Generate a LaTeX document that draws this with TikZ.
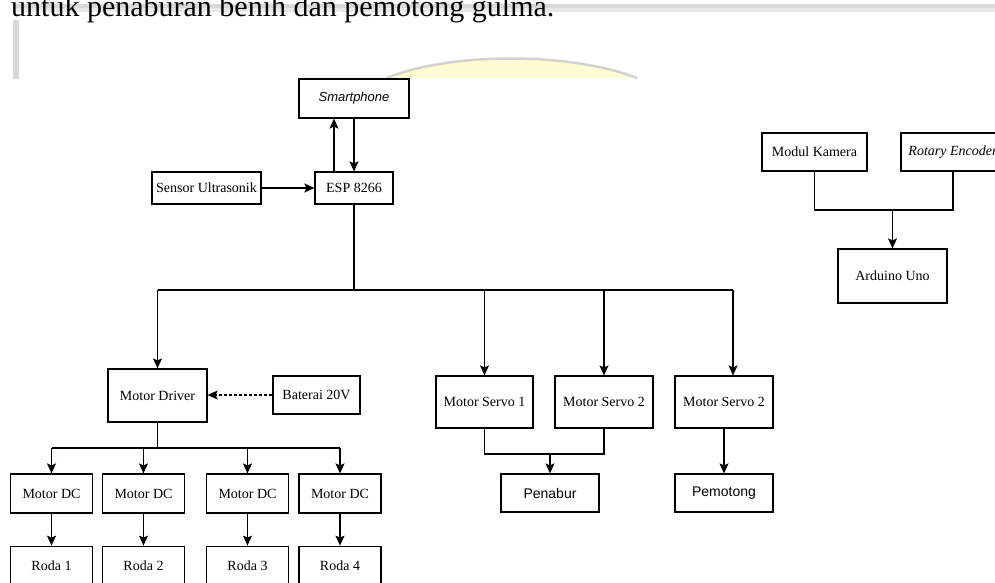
\documentclass[tikz,border=0pt]{standalone}
\usepackage{fontspec}
\setmainfont{Liberation Serif}
\setsansfont{Liberation Sans}
\usetikzlibrary{arrows.meta,positioning}
\definecolor{pgrey}{HTML}{D9D9D9}
\definecolor{plight}{HTML}{E9E9E9}
\definecolor{wyellow}{HTML}{FFFBD2}
\definecolor{warc}{HTML}{D2D2D2}

\begin{document}
\begin{tikzpicture}[x=1pt,y=-1pt,every node/.style={font=\fontsize{14}{16}\selectfont,align=center},box/.style={draw,line width=1.2pt,inner sep=0pt},dcbox/.style={box,minimum width=82pt,minimum height=39pt},svbox/.style={box,minimum width=98pt,minimum height=52pt},arr/.style={-{Stealth[length=10pt,width=9pt,inset=2pt]},line width=1.2pt},ln/.style={line width=1.2pt}]
\useasboundingbox (0,0) rectangle (995,583);
\clip (0,0) rectangle (995,583);
\fill[white] (0,0) rectangle (995,583);
% page around the figure
\fill[pgrey] (13,4) rectangle (995,8);
\fill[plight] (13,8) rectangle (995,12);
\fill[pgrey] (13,20) rectangle (19,79);
\fill[wyellow] (387,78) .. controls (450,52) and (570,52) .. (637,78) -- cycle;
\draw[warc,line width=2.5pt] (387,78) .. controls (450,52) and (570,52) .. (637,78);
\node[anchor=base west,inner sep=0pt,font=\fontsize{30}{32}\selectfont] (cap) at (11,17) {untuk penaburan benih dan pemotong gulma.};
% ESP side
\node[box,minimum width=110pt,minimum height=39pt,font=\sffamily\itshape\fontsize{13}{15}\selectfont] (phone) at (354,98.5) {Smartphone};
\node[box,minimum width=78pt,minimum height=32pt] (esp) at (354,188) {ESP 8266};
\node[box,minimum width=109pt,minimum height=32pt] (sensor) at (206.5,188) {Sensor Ultrasonik};
\node[box,minimum width=99pt,minimum height=53pt] (drv) at (157.5,395.5) {Motor Driver};
\node[box,minimum width=87pt,minimum height=38pt] (bat) at (316.5,395) {Baterai 20V};
\foreach \i/\x in {1/51.5,2/143.5,3/247.5,4/340}{
  \node[dcbox] (dc\i) at (\x,493.5) {Motor DC};
  \node[dcbox,below=32pt of dc\i] (roda\i) {Roda \i};
}
\node[svbox,minimum width=97pt] (sv1) at (484.5,402) {Motor Servo 1};
\node[svbox] (sv2) at (604,402) {Motor Servo 2};
\node[svbox] (sv3) at (724,402) {Motor Servo 2};
\node[box,minimum width=98pt,minimum height=38pt,font=\sffamily\fontsize{14}{16}\selectfont] (tabur) at (550,493) {Penabur};
\node[box,minimum width=98pt,minimum height=38pt,font=\sffamily\fontsize{14}{16}\selectfont] (potong) at (724,493) {Pemotong};
% Arduino side
\node[box,minimum width=105pt,minimum height=38pt] (kam) at (814.5,152) {Modul Kamera};
\node[box,minimum width=104pt,minimum height=38pt,font=\itshape\fontsize{14}{16}\selectfont] (enc) at (953,152) {Rotary Encoder};
\node[box,minimum width=109pt,minimum height=54pt] (uno) at (892.5,276) {Arduino Uno};
\coordinate (bus) at (354,290);
\coordinate (dbus) at (157.5,448);
\coordinate (join) at (550,454);
\coordinate (ajoin) at (892.5,210);
\draw[arr] ([xshift=-20pt]esp.north) -- ([xshift=-20pt]phone.south); \draw[arr] (phone.south) -- (esp.north); \draw[arr] (sensor) -- (esp);
\draw[ln] (esp.south) -- (bus); \draw[ln] (drv.north |- bus) -- ([xshift=9pt]sv3.north |- bus);
\draw[arr] (drv.north |- bus) -- (drv.north); \draw[arr] (sv1.north |- bus) -- (sv1.north); \draw[arr] (sv2.north |- bus) -- (sv2.north); \draw[arr] ([xshift=9pt]sv3.north |- bus) -- ([xshift=9pt]sv3.north);
\draw[arr,dash pattern=on 3pt off 2pt] (bat.west) -- (bat.west -| drv.east);
\draw[ln] (drv.south) -- (dbus); \draw[ln] (dc1.north |- dbus) -- (dc4.north |- dbus);
\foreach \i in {1,...,4}{\draw[arr] (dc\i.north |- dbus) -- (dc\i.north); \draw[arr] (dc\i) -- (roda\i);}
\draw[ln] (sv1.south) |- (join) -| (sv2.south); \draw[arr] (join) -- (tabur.north); \draw[arr] (sv3) -- (potong);
\draw[ln] (kam.south) |- (ajoin) -| (enc.south); \draw[arr] (ajoin) -- (uno.north);
\end{tikzpicture}
\end{document}
